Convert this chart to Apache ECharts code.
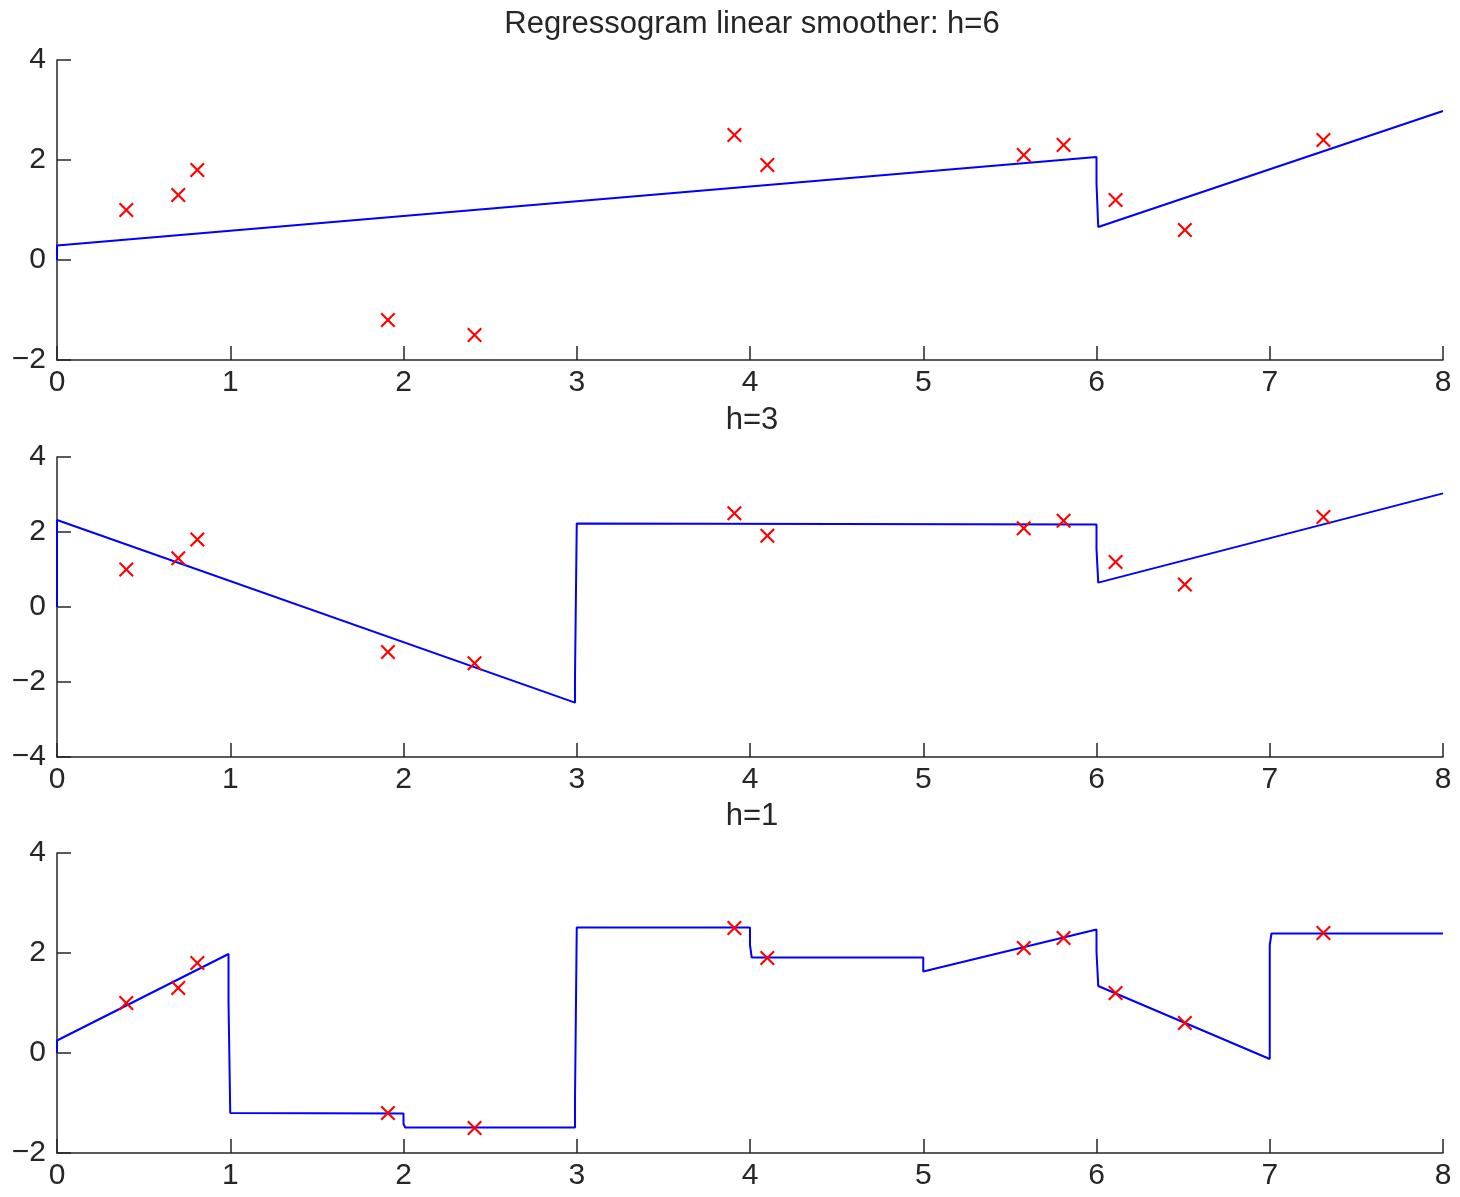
<!DOCTYPE html>
<html>
<head>
<meta charset="utf-8">
<script src="https://cdn.jsdelivr.net/npm/echarts@6/dist/echarts.min.js"></script>
<style>
  html, body { margin: 0; padding: 0; background: #fff; }
  #container { width: 1460px; height: 1197px; }
</style>
</head>
<body>
<div id="container"></div>
<script>
// observed points (same in all three panels)
var obsX = [0.4, 0.7, 0.81, 1.91, 2.41, 3.91, 4.1, 5.58, 5.81, 6.11, 6.51, 7.31];
var obsY = [1.0, 1.3, 1.8, -1.2, -1.5, 2.5, 1.9, 2.1, 2.3, 1.2, 0.6, 2.4];

// smoother curves as [x, y] corner points
var smoothH6 = [[0, 0], [0, 0.29], [6, 2.06], [6, 1.54], [6.01, 1.54], [6.01, 0.66], [8, 2.98]];
var smoothH3 = [[0, 0], [0, 2.32], [2.99, -2.55], [2.99, -1.81], [3.0, -1.81], [3.0, 2.23],
  [6, 2.2], [6, 1.55], [6.01, 1.55], [6.01, 0.65], [8, 3.03]];
var smoothH1 = [[0, 0], [0, 0.25], [0.99, 1.98], [0.99, 1.02], [1.0, 1.02], [1.0, -1.2],
  [2.0, -1.21], [2.0, -1.42], [2.01, -1.42], [2.01, -1.49], [2.99, -1.49], [2.99, -0.89],
  [3.0, -0.89], [3.0, 2.51], [4.0, 2.51], [4.0, 2.16], [4.01, 2.16], [4.01, 1.91],
  [5.0, 1.91], [5.0, 1.63], [6.0, 2.47], [6.0, 2.03], [6.01, 2.03], [6.01, 1.34],
  [7.0, -0.12], [7.0, 2.16], [7.01, 2.16], [7.01, 2.39], [8, 2.39]];

var panelTitles = ['Regressogram linear smoother: h=6', 'h=3', 'h=1'];
var yRanges = [[-2, 4], [-4, 4], [-2, 4]];
var xTicks = [0, 8, 1];

(function() {
	var myChart = echarts.init(document.getElementById('container'));
	var font = 'Liberation Sans, Arial, sans-serif';
	var ink = '#262626';
	var tops = [60, 457, 853];
	var titleY = [24, 420, 816];
	var curves = [smoothH6, smoothH3, smoothH1];
	// filled "x" marker
	var cross = 'path://M0,1L1,0L5,4L9,0L10,1L6,5L10,9L9,10L5,6L1,10L0,9L4,5Z';

	var points = obsX.map(function(x, i) { return [x, obsY[i]]; });

	var option = {
		backgroundColor: '#fff',
		animation: false,
		grid: [],
		xAxis: [],
		yAxis: [],
		series: [],
		graphic: []
	};

	for (var i = 0; i < 3; i++) {
		option.grid.push({ left: 57, right: 17, top: tops[i], height: 300, containLabel: false, outerBoundsMode: 'none' });
		option.xAxis.push({
			gridIndex: i, type: 'value', min: xTicks[0], max: xTicks[1], interval: xTicks[2],
			axisLine: { show: true, onZero: false, lineStyle: { color: ink, width: 1.5 } },
			axisTick: { show: true, inside: true, length: 14, lineStyle: { color: ink, width: 1.5 } },
			axisLabel: { show: true, fontSize: 30, color: ink, fontFamily: font, margin: 8, showMinLabel: true, showMaxLabel: true, hideOverlap: false },
			splitLine: { show: false }
		});
		option.yAxis.push({
			gridIndex: i, type: 'value', min: yRanges[i][0], max: yRanges[i][1], interval: 2,
			axisLine: { show: true, onZero: false, lineStyle: { color: ink, width: 1.5 } },
			axisTick: { show: true, inside: true, length: 14, lineStyle: { color: ink, width: 1.5 } },
			axisLabel: {
				show: true, fontSize: 30, color: ink, fontFamily: font, margin: 11,
				showMinLabel: true, showMaxLabel: true, hideOverlap: false,
				formatter: function(v) { return String(v).replace('-', '\u2212'); }
			},
			splitLine: { show: false }
		});
		option.series.push({
			type: 'line', xAxisIndex: i, yAxisIndex: i, data: curves[i],
			showSymbol: false, smooth: false, z: 2,
			lineStyle: { color: '#0000ff', width: 2 }
		});
		option.series.push({
			type: 'scatter', xAxisIndex: i, yAxisIndex: i, data: points,
			symbol: cross, symbolSize: 15, z: 3,
			itemStyle: { color: '#ff0000', opacity: 1 }
		});
		option.graphic.push({
			type: 'text', x: 752, y: titleY[i],
			style: { text: panelTitles[i], font: '31px ' + font, fill: ink, align: 'center', verticalAlign: 'middle' }
		});
	}

	myChart.setOption(option);
})();
</script>
</body>
</html>
